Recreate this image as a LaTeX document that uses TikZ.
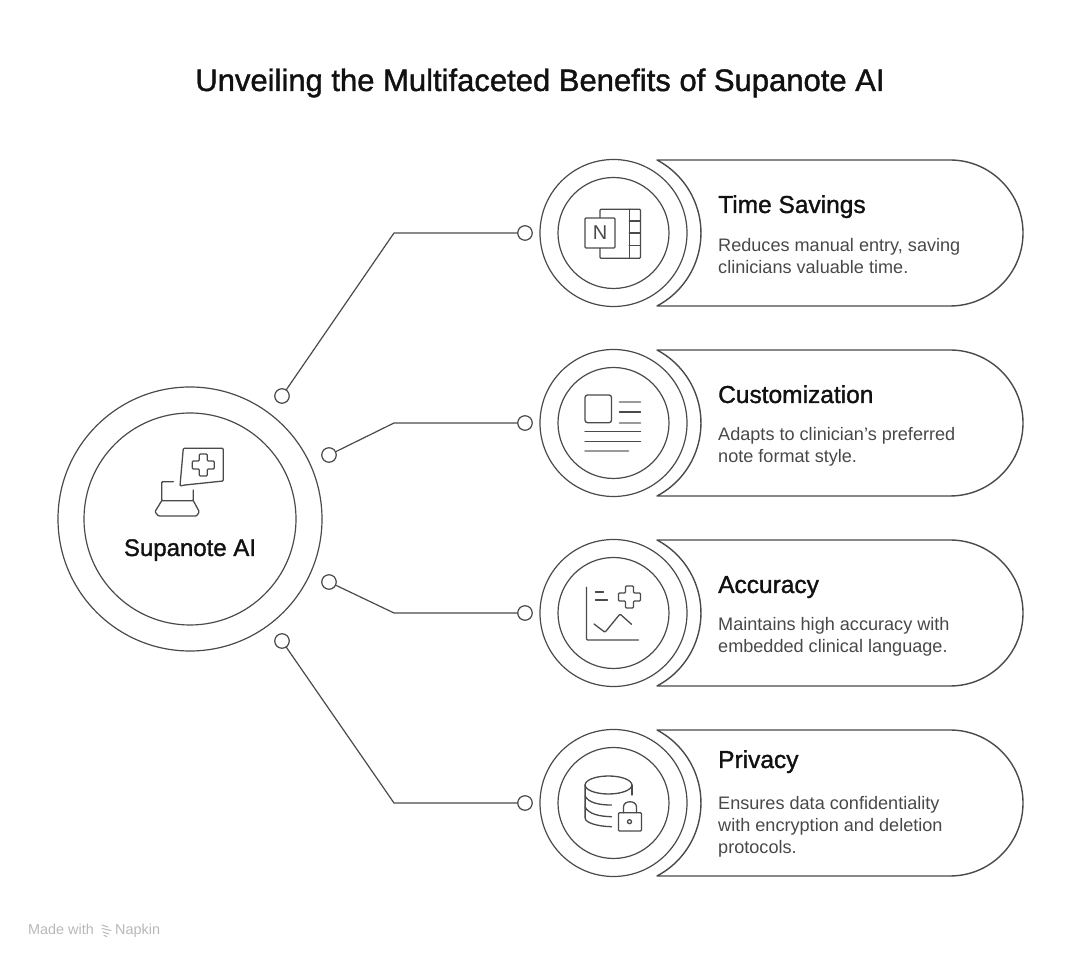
\documentclass[tikz,border=0pt]{standalone}
\usepackage{fontspec}
\setmainfont{Liberation Sans}
\newfontfamily\headfont[FakeBold=1.3]{Liberation Sans}
\definecolor{inkline}{HTML}{4A4A4A}
\definecolor{inkpale}{HTML}{9A9A9A}
\definecolor{inktext}{HTML}{484848}
\definecolor{inkhead}{HTML}{111111}
\tikzset{
	ringouter/.style={circle, draw=inkline, line width=1.2pt, minimum size=147pt, inner sep=0pt},
	ringinner/.style={circle, draw=inkline, line width=1.2pt, minimum size=111pt, inner sep=0pt},
	dotend/.style={circle, draw=inkline, fill=white, line width=1.2pt, minimum size=14.5pt, inner sep=0pt},
	wire/.style={draw=inkline, line width=1.2pt},
	pill/.style={draw=inkline, line width=1.4pt},
	glyph/.style={draw=inkline, line width=1.3pt, rounded corners=1pt},
	glyphpale/.style={draw=inkpale, line width=1.8pt},
	headtxt/.style={anchor=base west, inner sep=0pt, text=inkhead, font=\headfont\fontsize{24.5}{28}\selectfont},
	bodytxt/.style={anchor=west, inner sep=0pt, align=left, text=inktext, font=\fontsize{18.1}{22}\selectfont},
	foottxt/.style={anchor=base west, inner sep=0pt, text=black!28, font=\fontsize{14.4}{16}\selectfont},
}
\begin{document}
\begin{tikzpicture}[x=1pt, y=1pt, line join=round, line cap=round]
	\useasboundingbox (0,0) rectangle (1080,964);
	\node[anchor=base, inner sep=0pt, text=inkhead, font=\headfont\fontsize{31}{34}\selectfont] (title) at (540,873) {Unveiling the Multifaceted Benefits of Supanote AI};
	% hub on the left
	\node[circle, draw=inkline, line width=1.2pt, minimum size=264pt, inner sep=0pt] (hubouter) at (190,445) {};
	\node[circle, draw=inkline, line width=1.2pt, minimum size=212pt, inner sep=0pt] (hubinner) at (190,445) {};
	\node[anchor=base, inner sep=0pt, text=inkhead, font=\headfont\fontsize{24}{28}\selectfont] (hubtxt) at (190,408) {Supanote AI};
	\begin{scope}[shift={(190,445)}]
		\draw[glyph] (-10,33) -- (-6.7,70.7) -- (33.3,70.7) -- (33.3,38) -- (-5,34) -- cycle;
		\draw[glyph] (9.3,65) -- (17.3,65) -- (17.3,58) -- (24.3,58) -- (24.3,50) -- (17.3,50) -- (17.3,43) -- (9.3,43) -- (9.3,50) -- (2.3,50) -- (2.3,58) -- (9.3,58) -- cycle;
		\draw[glyph] (-16.7,37.3) -- (-28.3,37.3) -- (-28.3,18.3) -- (3.3,18.3) -- (3.3,29);
		\draw[glyph] (-28.3,18.3) -- (-35,7.3) -- (-31.7,3) -- (6.7,3) -- (9.3,7.3) -- (3.3,18.3);
	\end{scope}
	% the four rows
	\foreach \n/\y in {1/731, 2/541, 3/351, 4/161} {
		\node[ringouter] (outer\n) at (613.5,\y) {};
		\node[ringinner] (inner\n) at (613.5,\y) {};
		\node[dotend] (end\n) at (525,\y) {};
		\coordinate (knee\n) at (394,\y);
		\draw[pill] (657,\y+73) -- (950,\y+73) arc (90:-90:73) -- (657,\y-73)
			arc (-62.1:62.1:82.6);
	}
	\node[dotend] (start1) at (282,568) {};
	\node[dotend] (start2) at (329,509) {};
	\node[dotend] (start3) at (329,382) {};
	\node[dotend] (start4) at (282,323) {};
	\foreach \n in {1,2,3,4}
	\draw[wire] (start\n) -- (knee\n) -- (end\n);
	% texts
	\node[headtxt] (head1) at (718,751) {Time Savings};
	\node[bodytxt] (body1) at (718,708) {Reduces manual entry, saving\\clinicians valuable time.};
	\node[headtxt] (head2) at (718,561) {Customization};
	\node[bodytxt] (body2) at (718,517.5) {Adapts to clinician's preferred\\note format style.};
	\node[headtxt] (head3) at (718,371) {Accuracy};
	\node[bodytxt] (body3) at (718,327.5) {Maintains high accuracy with\\embedded clinical language.};
	\node[headtxt] (head4) at (718,196) {Privacy};
	\node[bodytxt] (body4) at (718,137.5) {Ensures data confidentiality\\with encryption and deletion\\protocols.};
	% icon, notebook
	\begin{scope}[shift={(613.5,731)}]
		\draw[glyph] (-13.5,23.7) rectangle (27,-25.3);
		\draw[glyph] (15.8,23.7) -- (15.8,-25.3);
		\draw[glyph] (15.8,12) -- (27,12) (15.8,0) -- (27,0) (15.8,-12.7) -- (27,-12.7);
		\draw[glyph, fill=white] (-28.5,15) rectangle (1.5,-15);
		\node[inner sep=0pt, text=inkline, font=\fontsize{20}{22}\selectfont] (noteN) at (-13.5,0) {N};
	\end{scope}
	% icon, page layout
	\begin{scope}[shift={(613.5,541)}]
		\draw[glyph, rounded corners=2.5pt] (-28.5,28) rectangle (-2,0.3);
		\draw[glyphpale] (6,21) -- (27,21) (6,0) -- (27,0) (-28.5,-28.3) -- (15,-28.3);
		\draw[glyph] (6,11) -- (27,11) (-28.5,-8.3) -- (27,-8.3) (-28.5,-18.7) -- (27,-18.7);
	\end{scope}
	% icon, chart with cross
	\begin{scope}[shift={(613.5,351)}]
		\draw[glyph] (-27,25.7) -- (-27,-27) -- (25,-27);
		\draw[glyph] (-18,21) -- (-10,21) (-18,13) -- (-6,13);
		\draw[glyph] (12,27) -- (20,27) -- (20,20) -- (27,20) -- (27,12) -- (20,12) -- (20,5) -- (12,5) -- (12,12) -- (5,12) -- (5,20) -- (12,20) -- cycle;
		\draw[glyph] (-19.5,-11) -- (-8.5,-19.3) -- (6.5,-1) -- (18,-11.3);
	\end{scope}
	% icon, database with lock
	\begin{scope}[shift={(613.5,161)}, draw=inkline, line width=1.3pt]
		\draw (-5,18) ellipse (23.4 and 9);
		\draw (-28.4,18) -- (-28.4,-15) .. controls (-28.4,-20) and (-15,-23.5) .. (-2,-23.7);
		\draw (18.4,18) -- (18.4,8);
		\draw (-28.4,7) .. controls (-25,0) and (-14,-2) .. (-2,-2);
		\draw (-28.4,-4) .. controls (-25,-11) and (-14,-13.5) .. (-2,-13.7);
		\draw[glyph] (5,-9.7) rectangle (28,-28);
		\draw (10,-9.7) -- (10,-4) .. controls (10,3) and (23,3) .. (23,-4) -- (23,-9.7);
		\draw (16,-18.7) circle (2);
	\end{scope}
	% footer
	\node[foottxt] (made) at (28,29) {Made with};
	\node[foottxt] (napkin) at (115,29) {Napkin};
	\draw[black!28, line width=1pt] (102,39) -- (108,37) (102,35.5) -- (111,33.5) (103,32) -- (109,30) (104,28.5) -- (107,27.5);
\end{tikzpicture}
\end{document}
